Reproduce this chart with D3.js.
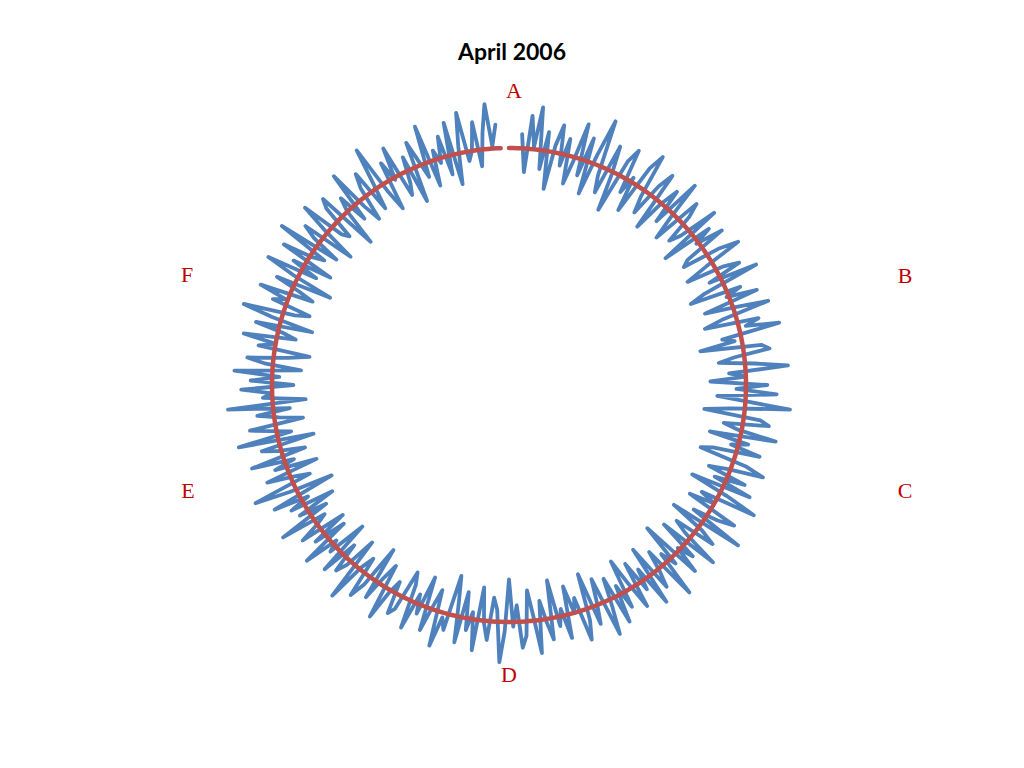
<!DOCTYPE html>
<html><head><meta charset="utf-8">
<script src="https://cdn.jsdelivr.net/npm/d3@7"></script>
<style>body{margin:0;background:#fff}</style></head><body>
<svg id="c" width="1024" height="768"></svg>
<script>
const title = "April 2006";
const axisLabels = ["A","B","C","D","E","F"];
const categoryCount = 360;
const averageLevel = 100;
const averageLastIndex = 358;
// blue series, clockwise from top (null = missing)
const seriesValues = [
 null,null,null,106,90,114,101,118,92,108,84,103,112,95,107,88,98,115,93,110,86,104,120,96,89,111,99,83,107,113,
 94,102,87,109,116,97,90,105,112,86,100,108,93,115,98,88,110,104,91,96,113,85,107,99,111,92,89,106,114,97,
 87,103,110,95,116,91,84,106,99,112,88,101,115,94,86,109,103,117,92,97,82,108,111,96,89,104,118,93,100,85,
 109,96,113,88,101,119,94,83,107,111,92,98,115,87,104,97,110,90,85,106,114,99,91,108,95,112,86,103,117,93,
 100,89,112,105,94,118,86,102,109,91,97,114,88,106,99,111,84,103,96,116,92,101,108,87,113,95,104,90,110,98,
 86,107,96,112,91,103,115,89,99,108,85,105,113,94,100,88,110,97,104,84,109,101,92,114,98,87,106,111,93,102,
 82,104,117,95,90,108,101,86,113,97,105,89,111,94,83,107,102,115,91,99,110,87,104,96,112,93,88,106,109,95,
 101,114,90,97,108,85,104,111,93,99,116,88,102,107,94,110,86,103,98,113,91,105,89,109,100,95,115,92,104,87,
 106,97,112,84,103,118,92,99,110,87,105,96,114,90,101,108,85,117,94,102,111,88,98,107,93,119,86,104,100,113,
 91,109,97,116,88,103,111,94,85,107,100,114,92,98,110,86,104,117,95,89,106,101,113,90,97,108,84,102,115,93,
 105,88,112,99,94,117,90,103,109,86,101,114,95,92,107,111,84,100,106,93,115,97,89,104,110,91,102,118,96,87,
 108,99,113,90,95,106,85,111,102,94,116,89,104,98,109,92,114,87,103,117,96,100,112,93,107,119,101,110,null,null
];
if (seriesValues.length !== categoryCount) throw new Error("length " + seriesValues.length);

const layout = {cx:509, cy:385, radius:237};
const labelOffsets = [[5,-295],[396,-110],[396,105],[0,289],[-321,105],[-322,-111]];

const svg = d3.select("#c");
const g = svg.append("g").attr("transform",`translate(${layout.cx},${layout.cy})`);
const r = d3.scaleLinear().domain([0,averageLevel]).range([0,layout.radius]);
const angle = d3.scaleLinear().domain([0,categoryCount]).range([0,2*Math.PI]);

const line = d3.lineRadial()
  .defined(d=>d.v!=null)
  .angle(d=>angle(d.i))
  .radius(d=>r(d.v));

g.append("path")
  .datum(seriesValues.map((v,i)=>({i,v})))
  .attr("d",line)
  .attr("fill","none")
  .attr("stroke","#4F81BD")
  .attr("stroke-width",3.8)
  .attr("stroke-linejoin","round")
  .attr("stroke-linecap","round");

const avg = d3.range(0,averageLastIndex+1).map(i=>({i,v:averageLevel}));
g.append("path")
  .datum(avg)
  .attr("d",line)
  .attr("fill","none")
  .attr("stroke","#C0504D")
  .attr("stroke-width",4.5)
  .attr("stroke-linecap","round");

g.selectAll("text.lab").data(axisLabels).join("text")
  .attr("class","lab")
  .attr("x",(d,i)=>labelOffsets[i][0])
  .attr("y",(d,i)=>labelOffsets[i][1])
  .attr("dy","0.35em")
  .attr("text-anchor","middle")
  .attr("font-family","'Liberation Serif','Times New Roman',serif")
  .attr("font-size",22)
  .attr("fill","#C00000")
  .text(d=>d);

svg.append("text")
  .attr("x",512).attr("y",52).attr("dy","0.35em")
  .attr("text-anchor","middle")
  .attr("font-family","Lato,'Open Sans',sans-serif")
  .attr("font-weight","bold")
  .attr("font-size",23)
  .attr("fill","#000")
  .text(title);
</script>
</body></html>
